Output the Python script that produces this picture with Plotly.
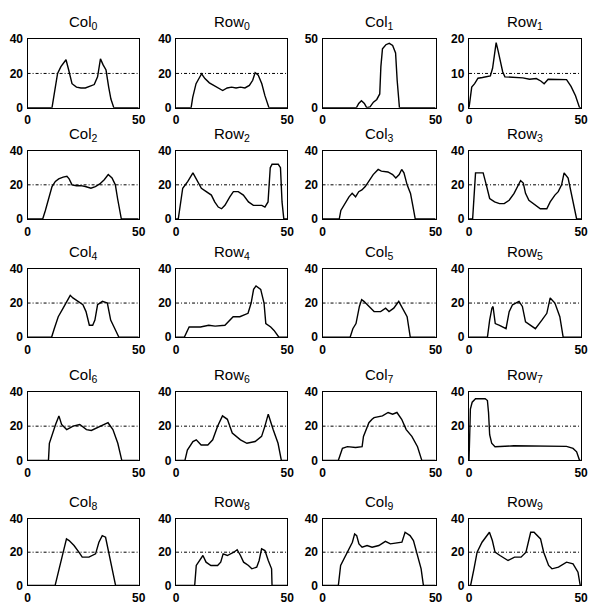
import plotly.graph_objects as go

# ---- data ----
col0_x = [0, 11, 12, 13.5, 15, 16.5, 17.3, 18.5, 20, 22, 24, 26, 28, 30, 31.5, 32.8, 34, 35.3, 36.5, 37.5, 38.8, 50]
col0_y = [0, 0, 8, 20, 24, 27, 28, 22, 14, 12, 11.5, 11.5, 12.5, 13.5, 18, 28.5, 25, 22, 12, 5, 0, 0]

row0_x = [0, 6.8, 7.5, 9, 11.5, 13, 15, 17, 19, 21, 23, 25, 27, 29, 31, 33, 34.5, 35.6, 37, 38.6, 40, 41.8, 50]
row0_y = [0, 0, 6, 14, 19.8, 17, 14.5, 13, 12, 10, 11.5, 12, 11.5, 12, 11.5, 13, 16, 20.5, 19, 14, 7, 0, 0]

col1_x = [0, 15, 16, 17.2, 18.5, 19.5, 21, 22.5, 24, 25.3, 25.8, 26.5, 28, 29.5, 31, 32.3, 33, 34, 50]
col1_y = [0, 0, 3, 5, 3, 0, 0.5, 4, 6, 10, 30, 43, 46, 47, 45.5, 40, 20, 0, 0]

row1_x = [0, 0.5, 1.2, 2.5, 4, 6, 8, 9.5, 10.5, 11.3, 12.1, 13, 14, 15, 16, 20, 24, 27, 30, 32, 33.5, 35.3, 40, 43.5, 45.5, 47.5, 49.3, 50]
row1_y = [0, 3, 6, 7, 8.6, 8.8, 9, 9.3, 11.5, 16, 19, 16.5, 13, 10.5, 9, 8.8, 8.7, 8.3, 8.5, 7.8, 7, 8.3, 8.2, 8.2, 6.2, 3.5, 0, 0]

col2_x = [0, 6.8, 8, 9.5, 11, 12.5, 14, 16, 17.7, 18.7, 20, 22, 24, 26, 28.5, 30.5, 32.5, 34.5, 36.3, 38, 39.5, 40.5, 41.5, 42.2, 50]
col2_y = [0, 0, 5, 12, 19, 22, 23.5, 24.5, 25, 23.5, 20, 19.5, 19.5, 19, 18, 19, 20.5, 23, 26, 24, 20, 12, 5, 0, 0]

row2_x = [0, 1, 3, 5.3, 7.6, 9.8, 11.4, 13.6, 15.9, 17.4, 19, 20.5, 22, 24.2, 25.8, 28, 30.3, 32.6, 34.8, 38.6, 40, 41.4, 42.4, 43.2, 46, 47, 47.7, 48.5, 50]
row2_y = [0, 0, 18, 22, 27, 22, 18, 16, 14, 10, 7, 6, 8, 13, 16, 16, 14, 10, 8, 8, 7, 10, 30, 32, 32, 30, 10, 0, 0]

col3_x = [0, 7.4, 8.1, 9.6, 11.7, 13.1, 14.6, 16, 17.4, 18.9, 20.3, 22.4, 24.6, 26, 28.9, 31, 32.4, 33.9, 35, 36, 37.4, 38.9, 39.9, 41, 50]
col3_y = [0, 0, 5, 8, 13, 15, 13, 16, 17, 19, 22, 26, 29, 28, 27.5, 26, 24, 26, 29, 27, 20, 15, 8, 0, 0]

row3_x = [0, 1.6, 2.9, 6.3, 7.7, 9.2, 11.4, 13.6, 15.7, 17.9, 20.1, 21.9, 23, 24.2, 25.2, 26.7, 29.6, 31.8, 34.7, 36.2, 38.3, 39.8, 41.3, 42.4, 44.2, 45.6, 47.1, 48, 50]
row3_y = [0, 0, 27, 27, 20, 12, 10, 9, 9, 11, 15, 20, 22.5, 21, 15, 11, 8, 6, 6, 10, 14, 16, 20, 27, 24, 15, 5, 0, 0]

col4_x = [0, 10.8, 12, 13.8, 16, 18.2, 19.2, 20.4, 22.6, 24.9, 26.3, 27.8, 29.3, 30.3, 31.5, 33.7, 35.9, 37.4, 38.9, 41.1, 50]
col4_y = [0, 0, 5, 12, 17, 22, 24.5, 23, 21, 19, 15, 7, 7, 10, 19, 21, 20, 10, 6, 0, 0]

row4_x = [0, 3.7, 5.9, 11, 14.7, 17.6, 22, 25.7, 28.7, 32.4, 33.8, 34.9, 36, 38.1, 39.6, 40.4, 42.6, 44.1, 46.3, 50]
row4_y = [0, 0, 6, 6, 7, 6.5, 7, 12, 12, 14, 20, 28, 30, 28, 20, 8, 6, 4, 0, 0]

col5_x = [0, 12.2, 13.4, 14.8, 16.3, 17.3, 18.3, 20.6, 22.8, 25.7, 27.9, 29.4, 31.5, 33.7, 35.2, 37.4, 38.8, 50]
col5_y = [0, 0, 5, 8, 18, 22, 21, 18, 15, 15, 17, 15, 17, 21, 17, 12, 0, 0]

row5_x = [0, 8.2, 9.2, 10.2, 10.7, 11.7, 13.6, 16.5, 17.9, 19.4, 22.3, 23.8, 25.2, 27.4, 29.6, 32.5, 34.7, 36.2, 38.3, 40.5, 42, 50]
row5_y = [0, 0, 10, 17, 18, 8, 7, 5, 15, 19, 21, 18, 9, 7, 5, 10, 14, 23, 20, 12, 0, 0]

col6_x = [0, 9.4, 9.8, 11.6, 12.6, 14.1, 15.3, 17.6, 20.5, 23.5, 26.5, 28.7, 31, 33.2, 36.2, 38.4, 40.6, 42.4, 50]
col6_y = [0, 0, 10, 18, 21, 26, 21, 18, 20, 21, 18, 17.5, 19, 20, 22, 18, 10, 0, 0]

row6_x = [0, 4, 5.1, 7.6, 9.1, 11.3, 14.3, 16.5, 18.7, 20.9, 23.1, 25.3, 29, 31.9, 35.6, 38.5, 40, 41.5, 43.7, 45.9, 47.4, 50]
row6_y = [0, 0, 6, 11, 12, 9, 9, 12, 20, 26, 24, 16, 12, 10, 11, 14, 20, 27, 18, 10, 0, 0]

col7_x = [0, 7, 8.8, 11, 14.6, 17.5, 18.1, 19.7, 20.5, 21.9, 22.8, 26.5, 29, 31, 32.9, 35, 37, 39.5, 42, 43.9, 50]
col7_y = [0, 0, 7, 8, 7.5, 8, 14, 19, 22, 24, 25, 26, 28, 27, 28, 24, 18, 14, 8, 0, 0]

row7_x = [0, 0.6, 1.4, 2.9, 7.2, 8.2, 8.7, 9.2, 10.1, 11.6, 20, 30, 40, 43.5, 46.4, 48, 49.3, 50]
row7_y = [0, 30, 34, 36, 36, 35, 28, 15, 10, 8, 8.5, 8.3, 8.4, 8.2, 7, 5, 0, 0]

col8_x = [0, 12.4, 14.2, 16.1, 17.5, 18.7, 20.9, 23.1, 24.6, 27.6, 30.6, 32.1, 33.6, 35.1, 36.6, 38.1, 39.6, 50]
col8_y = [0, 0, 10, 20, 28, 27, 24, 20, 17, 17, 19, 26, 30, 29, 20, 10, 0, 0]

row8_x = [0, 8.4, 9.1, 10.6, 12.1, 13.5, 15.7, 18.7, 20.1, 21.2, 23.1, 26, 27.5, 29, 30.4, 32.6, 34.1, 36.3, 37.4, 38.5, 40, 41.5, 43, 43.2, 50]
row8_y = [0, 0, 12, 15, 18, 14, 12, 12, 14, 19, 18, 20, 21.5, 18, 14, 12, 10, 11, 15, 22, 21, 15, 10, 0, 0]

col9_x = [0, 7, 8, 9.5, 11, 12.4, 13.2, 14.2, 15.1, 16.1, 17.5, 19.7, 21.9, 24.9, 27.8, 30, 32.9, 35.1, 36.5, 38.7, 40.2, 41.7, 43.6, 44.6, 50]
col9_y = [0, 0, 12, 16, 20, 23, 26, 31, 30, 25, 23, 24, 23, 24, 26.5, 25, 25.5, 26, 32, 30, 27, 20, 10, 0, 0]

row9_x = [0, 0.7, 2.2, 3.6, 5.8, 8, 9.1, 10.4, 11.6, 13.8, 15.9, 17.4, 20.3, 23.2, 25.4, 26.4, 27.5, 29, 31.9, 33.3, 35.5, 37, 39.9, 43.5, 46.4, 48.6, 49.6, 50]
row9_y = [0, 0, 10, 20, 26, 30, 32, 27, 20, 18, 16, 15, 17, 17, 20, 25, 32, 32, 28, 20, 12, 10, 11, 14, 13, 8, 0, 0]

panel_titles = ["Col<sub>0</sub>", "Row<sub>0</sub>", "Col<sub>1</sub>", "Row<sub>1</sub>",
                "Col<sub>2</sub>", "Row<sub>2</sub>", "Col<sub>3</sub>", "Row<sub>3</sub>",
                "Col<sub>4</sub>", "Row<sub>4</sub>", "Col<sub>5</sub>", "Row<sub>5</sub>",
                "Col<sub>6</sub>", "Row<sub>6</sub>", "Col<sub>7</sub>", "Row<sub>7</sub>",
                "Col<sub>8</sub>", "Row<sub>8</sub>", "Col<sub>9</sub>", "Row<sub>9</sub>"]
series_x = [col0_x, row0_x, col1_x, row1_x, col2_x, row2_x, col3_x, row3_x, col4_x, row4_x,
            col5_x, row5_x, col6_x, row6_x, col7_x, row7_x, col8_x, row8_x, col9_x, row9_x]
series_y = [col0_y, row0_y, col1_y, row1_y, col2_y, row2_y, col3_y, row3_y, col4_y, row4_y,
            col5_y, row5_y, col6_y, row6_y, col7_y, row7_y, col8_y, row8_y, col9_y, row9_y]
y_max = [40, 40, 50, 20, 40, 40, 40, 40, 40, 40, 40, 40, 40, 40, 40, 40, 40, 40, 40, 40]
y_ticks = [[0, 20, 40], [0, 20, 40], [0, 50], [0, 10, 20]] + [[0, 20, 40]] * 16
ref_level = [20, 20, None, 10] + [20] * 16
x_ticks = [0, 50]
x_max = 50

# ---- layout geometry (pixels) ----
W, H = 595, 610
col_px = [(25, 138), (176, 289), (325, 440), (474, 588)]
row_px = [(33, 103), (147, 217), (268, 338), (394, 464), (524, 592)]

fig = go.Figure()
tick_font = dict(family="Liberation Sans, Arial, sans-serif", size=12, color="black", weight="bold")
annotations = []
shapes = []
for i in range(20):
    r, c = divmod(i, 4)
    n = i + 1
    xa = "x" if n == 1 else f"x{n}"
    ya = "y" if n == 1 else f"y{n}"
    x0, x1 = col_px[c]
    t0, b0 = row_px[r]
    fig.add_trace(go.Scatter(x=series_x[i], y=series_y[i], mode="lines",
                             line=dict(color="black", width=1.4),
                             xaxis=xa, yaxis=ya, showlegend=False, hoverinfo="skip",
                             cliponaxis=False))
    axis_common = dict(showline=True, mirror=True, linecolor="black", linewidth=1.3,
                       showgrid=False, zeroline=False, ticks="", tickfont=tick_font)
    fig.layout[f"xaxis{'' if n == 1 else n}"] = dict(
        domain=[x0 / W, x1 / W], range=[0, x_max], tickvals=x_ticks,
        anchor=ya, ticklabelstandoff=1, **axis_common)
    fig.layout[f"yaxis{'' if n == 1 else n}"] = dict(
        domain=[1 - b0 / H, 1 - t0 / H], range=[0, y_max[i]], tickvals=y_ticks[i],
        anchor=xa, ticklabelstandoff=1, **axis_common)
    if ref_level[i] is not None:
        shapes.append(dict(type="line", xref=f"{xa} domain", yref=ya, x0=0, x1=1,
                           y0=ref_level[i], y1=ref_level[i],
                           line=dict(color="black", width=1, dash="3px,2px,1px,2px")))
    annotations.append(dict(text=panel_titles[i], xref="paper", yref="paper",
                            x=(x0 + x1) / 2 / W, y=1 - (t0 - 5) / H,
                            xanchor="center", yanchor="bottom", showarrow=False,
                            font=dict(family="Liberation Sans, Arial, sans-serif", size=15, color="black")))

fig.update_layout(width=W, height=H, margin=dict(l=0, r=0, t=0, b=0),
                  paper_bgcolor="white", plot_bgcolor="white",
                  annotations=annotations, shapes=shapes)
fig.write_html("out.html", config={"displayModeBar": False},
               post_script="document.body.style.margin='0';document.body.style.overflow='hidden';")
